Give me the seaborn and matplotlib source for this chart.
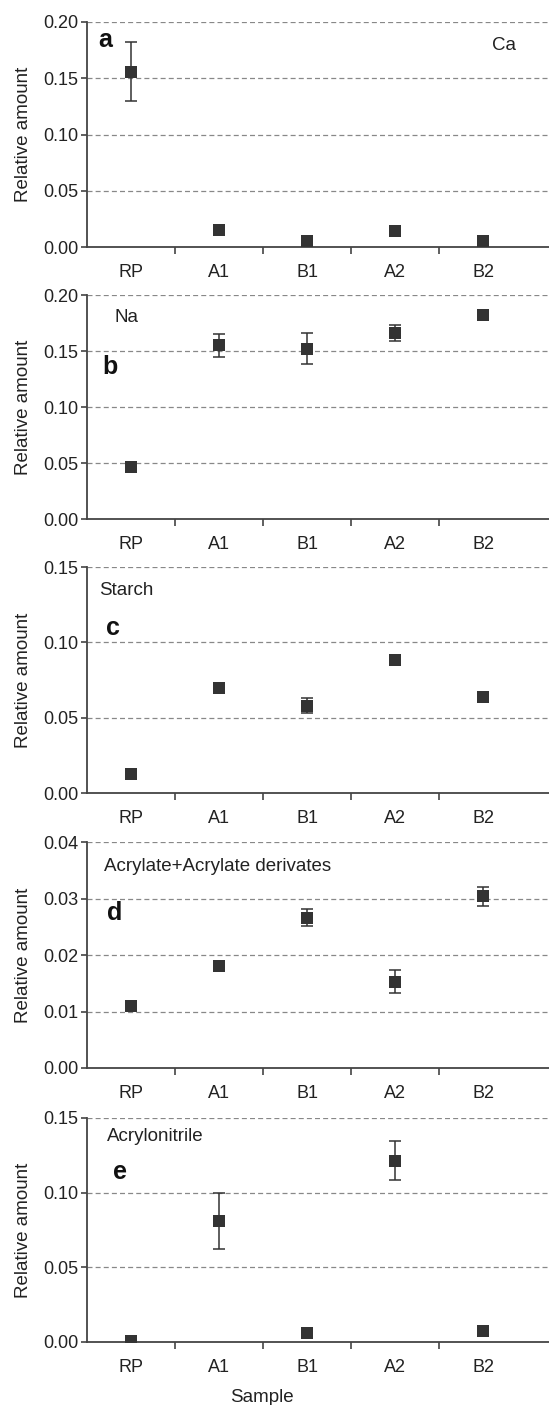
import matplotlib
matplotlib.use("Agg")
import matplotlib.pyplot as plt
import seaborn as sns
import pandas as pd

sns.set_style("white")
plt.rcParams['font.family'] = ['Liberation Sans', 'DejaVu Sans']

samples = ['RP', 'A1', 'B1', 'A2', 'B2']

# mean values and error (half-width)
ca_mean = [0.156, 0.015, 0.005, 0.014, 0.005]
ca_err = [0.026, 0.002, 0.002, 0.002, 0.002]

na_mean = [0.046, 0.155, 0.152, 0.166, 0.182]
na_err = [0.002, 0.010, 0.014, 0.007, 0.003]

starch_mean = [0.0125, 0.0695, 0.058, 0.088, 0.0635]
starch_err = [0.001, 0.0015, 0.005, 0.001, 0.001]

acrylate_mean = [0.011, 0.018, 0.0266, 0.0153, 0.0304]
acrylate_err = [0.0005, 0.0005, 0.0015, 0.002, 0.0017]

acn_mean = [0.0007, 0.081, 0.0058, 0.1215, 0.0073]
acn_err = [0.0005, 0.019, 0.0008, 0.013, 0.0008]

panels = [
    # (letter, name, mean, err, ymax, ytick step, letter pos, name pos)
    ('a', 'Ca', ca_mean, ca_err, 0.20, 0.05, (-0.37, 0.184), (4.1, 0.179)),
    ('b', 'Na', na_mean, na_err, 0.20, 0.05, (-0.32, 0.136), (-0.19, 0.180)),
    ('c', 'Starch', starch_mean, starch_err, 0.15, 0.05, (-0.28, 0.1095), (-0.36, 0.1345)),
    ('d', 'Acrylate+Acrylate derivates', acrylate_mean, acrylate_err, 0.04, 0.01,
     (-0.27, 0.0275), (-0.31, 0.0357)),
    ('e', 'Acrylonitrile', acn_mean, acn_err, 0.15, 0.05, (-0.2, 0.114), (-0.27, 0.1375)),
]

# axes boxes in pixels: (top, bottom)
boxes = [(22, 247), (295, 519), (567, 793), (842, 1068), (1118, 1342)]

W, H = 549, 1405
fig = plt.figure(figsize=(W / 100, H / 100), dpi=100)

dark = '#333333'
for (letter, name, mean, err, ymax, step, lpos, npos), (top, bot) in zip(panels, boxes):
    ax = fig.add_axes([87 / W, 1 - bot / H, (W - 87) / W, (bot - top) / H])
    df = pd.DataFrame({'Sample': samples, 'value': mean})
    ax.errorbar(range(len(samples)), mean, yerr=err, fmt='none', ecolor=dark,
                elinewidth=1.1, capsize=4, capthick=1.1, zorder=2)
    sns.scatterplot(data=df, x='Sample', y='value', marker='s', s=70,
                    color=dark, edgecolor=dark, linewidth=0, ax=ax, zorder=3)
    ax.set_xlim(-0.5, 4.75)
    ax.set_ylim(0, ymax)
    n = int(round(ymax / step))
    ticks = [round(i * step, 3) for i in range(n + 1)]
    ax.set_yticks(ticks)
    ax.set_yticklabels([f'{t:.2f}' for t in ticks])
    for t in ticks[1:]:
        ax.axhline(t, color='#888888', linestyle=(0, (4, 2.5)), linewidth=0.9, zorder=1)
    ax.set_xticks(range(len(samples)))
    ax.set_xticklabels(samples)
    ax.set_xticks([0.5, 1.5, 2.5, 3.5], minor=True)
    ax.tick_params(axis='x', which='major', length=0, pad=12, labelsize=13, colors='#222222')
    ax.tick_params(axis='x', which='minor', length=5, width=1.2, direction='out',
                   color='#444444', bottom=True)
    ax.tick_params(axis='y', which='major', length=4, width=1.2, direction='out',
                   color='#444444', left=True, labelsize=13, labelcolor='#222222', pad=2)
    for side in ['top', 'right']:
        ax.spines[side].set_visible(False)
    for side in ['left', 'bottom']:
        ax.spines[side].set_color('#444444')
        ax.spines[side].set_linewidth(1.3)
    ax.set_ylabel('Relative amount', fontsize=13.5, color='#222222')
    ax.yaxis.set_label_coords(-0.118, 0.5)
    ax.set_xlabel('')
    ax.text(lpos[0], lpos[1], letter, fontsize=18, fontweight='bold', color='#111111',
            ha='left', va='center')
    ax.text(npos[0], npos[1], name, fontsize=13.5, color='#222222', ha='left', va='center')

fig.text(262 / W, 1 - 1397 / H, 'Sample', fontsize=13.5, color='#222222',
         ha='center', va='center')

fig.savefig('out.png', dpi=100)
